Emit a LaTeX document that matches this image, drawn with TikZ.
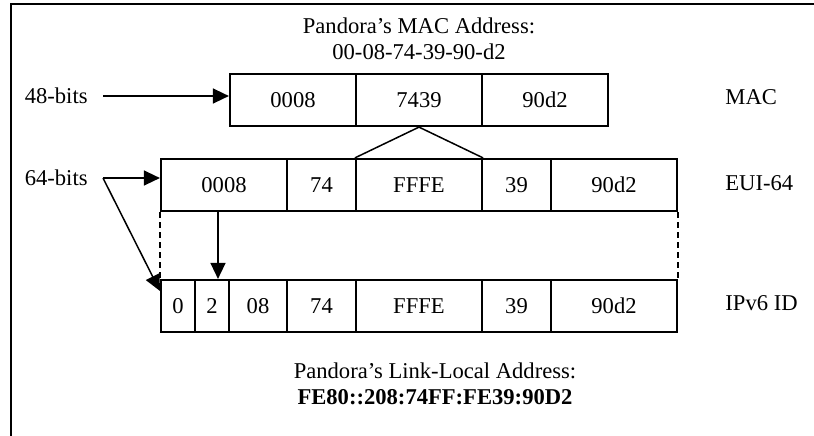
\documentclass[tikz,border=0pt]{standalone}
\usepackage{fontspec}
\setmainfont{Liberation Serif}
\usetikzlibrary{arrows.meta,calc}

\begin{document}
\begin{tikzpicture}[x=0.5pt,y=-0.5pt,
    txt/.style={font=\fontsize{11.3}{13.2}\selectfont},
    arr/.style={-{Triangle[length=8pt,width=7.5pt]},line width=0.75pt}]
            \useasboundingbox (0,0) rectangle (814,435);
            \draw[line width=0.9pt] (11,4) rectangle (850,470);

            \begin{scope}[every node/.style={txt,draw,line width=1.1pt,minimum height=26pt,inner sep=0pt}]
                % MAC
                \node[minimum width=63pt] (m1) at (293,100) {0008};
                \node[minimum width=63pt] (m2) at (419,100) {7439};
                \node[minimum width=63pt] (m3) at (545,100) {90d2};
                % EUI-64
                \node[minimum width=63pt] (e1) at (224,185) {0008};
                \node[minimum width=34.5pt] (e2) at (321.5,185) {74};
                \node[minimum width=63pt] (e3) at (419,185) {FFFE};
                \node[minimum width=34.5pt] (e4) at (516.5,185) {39};
                \node[minimum width=63pt] (e5) at (614,185) {90d2};
                % IPv6 ID
                \node[minimum width=17pt] (c0) at (178,306) {0};
                \node[minimum width=17pt] (c2) at (212,306) {2};
                \node[minimum width=29pt] (c3) at (258,306) {08};
                \node[minimum width=34.5pt] (c4) at (321.5,306) {74};
                \node[minimum width=63pt] (c5) at (419,306) {FFFE};
                \node[minimum width=34.5pt] (c6) at (516.5,306) {39};
                \node[minimum width=63pt] (c7) at (614,306) {90d2};
            \end{scope}

            \begin{scope}[every node/.style={txt,inner sep=0pt}]
                \node[align=center] (macaddr) at (419,39) {Pandora's MAC Address:\\00-08-74-39-90-d2};
                \node[align=center] (lladdr) at (435,384) {Pandora's Link-Local Address:\\\textbf{FE80::208:74FF:FE39:90D2}};
                \node[anchor=west] (mac) at (725,97) {MAC};
                \node[anchor=west] (eui) at (725,183) {EUI-64};
                \node[anchor=west] (ipv6) at (725,303) {IPv6 ID};
                \node[anchor=east,inner xsep=7.5pt] (l48) at (103,96) {48-bits};
                \node[anchor=east,inner xsep=7.5pt] (l64) at (103,178) {64-bits};
            \end{scope}

            \begin{scope}
                \draw[arr] (l48.east) -- (l48.east -| m1.west);
                \draw[arr] (l64.east) -- (l64.east -| e1.west);
                \draw[arr] (l64.east) -- ([yshift=-6pt]c0.north west);
                \draw[arr] ($(e1.south -| c2.north)+(3pt,0)$) -- ($(c2.north)+(3pt,0)$);
                \draw[line width=0.75pt] (e3.north west) -- (m2.south) -- (e3.north east);
                \draw[line width=0.9pt,dash pattern=on 3pt off 2pt] (e1.south west) -- (c0.north west);
                \draw[line width=0.9pt,dash pattern=on 3pt off 2pt] (e5.south east) -- (c7.north east);
            \end{scope}
            \end{tikzpicture}
\end{document}
